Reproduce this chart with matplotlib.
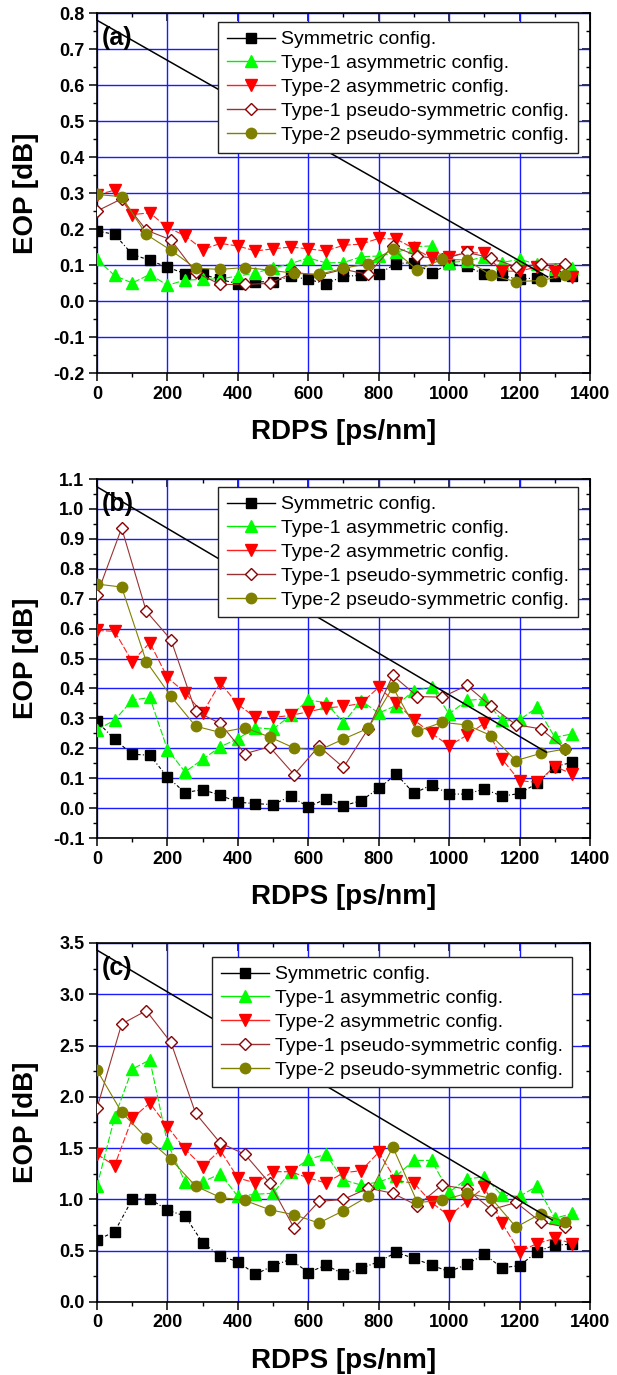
import matplotlib
matplotlib.use("Agg")
import matplotlib.pyplot as plt
from matplotlib.lines import Line2D
from matplotlib.ticker import MultipleLocator

plt.rcParams['font.family'] = ['Liberation Sans', 'DejaVu Sans']

# RDPS grids [ps/nm]
rdps = [0, 50, 100, 150, 200, 250, 300, 350, 400, 450, 500, 550, 600, 650,
        700, 750, 800, 850, 900, 950, 1000, 1050, 1100, 1150, 1200, 1250, 1300, 1350]
rdps_ps = [0, 70, 140, 210, 280, 350, 420, 490, 560, 630, 700, 770, 840, 910,
           980, 1050, 1120, 1190, 1260, 1330]

# panel (a)
sym_a = [0.195, 0.185, 0.13, 0.113, 0.094, 0.076, 0.074, 0.06, 0.048, 0.053, 0.054, 0.069, 0.06, 0.048,
         0.069, 0.071, 0.076, 0.104, 0.107, 0.079, 0.102, 0.097, 0.074, 0.071, 0.06, 0.065, 0.069, 0.07]
t1a_a = [0.116, 0.071, 0.05, 0.074, 0.044, 0.058, 0.06, 0.062, 0.069, 0.078, 0.092, 0.104, 0.12, 0.106,
         0.107, 0.123, 0.125, 0.135, 0.151, 0.153, 0.107, 0.111, 0.123, 0.107, 0.116, 0.102, 0.088, 0.093]
t2a_a = [0.295, 0.308, 0.24, 0.245, 0.204, 0.182, 0.143, 0.16, 0.153, 0.139, 0.145, 0.15, 0.145, 0.139,
         0.155, 0.158, 0.174, 0.172, 0.146, 0.12, 0.123, 0.135, 0.133, 0.083, 0.083, 0.095, 0.08, 0.067]
t1p_a = [0.25, 0.284, 0.197, 0.17, 0.08, 0.046, 0.046, 0.049, 0.08, 0.071, 0.088, 0.074, 0.153, 0.125,
         0.116, 0.135, 0.12, 0.095, 0.102, 0.104]
t2p_a = [0.296, 0.29, 0.185, 0.141, 0.091, 0.088, 0.093, 0.086, 0.077, 0.074, 0.091, 0.104, 0.144, 0.086,
         0.116, 0.114, 0.071, 0.054, 0.057, 0.071]
lim_a = ([0, 1280], [0.78, 0.067])

# panel (b)
sym_b = [0.29, 0.23, 0.18, 0.177, 0.104, 0.052, 0.062, 0.043, 0.02, 0.015, 0.012, 0.04, 0.004, 0.031,
         0.008, 0.025, 0.066, 0.114, 0.049, 0.078, 0.047, 0.047, 0.064, 0.04, 0.049, 0.083, 0.139, 0.153]
t1a_b = [0.262, 0.294, 0.361, 0.37, 0.196, 0.121, 0.163, 0.205, 0.232, 0.269, 0.264, 0.31, 0.361, 0.353,
         0.285, 0.359, 0.318, 0.343, 0.393, 0.404, 0.315, 0.36, 0.365, 0.293, 0.295, 0.337, 0.237, 0.248]
t2a_b = [0.594, 0.591, 0.49, 0.553, 0.437, 0.386, 0.318, 0.419, 0.347, 0.303, 0.303, 0.31, 0.322, 0.335,
         0.34, 0.35, 0.404, 0.351, 0.295, 0.25, 0.209, 0.243, 0.284, 0.164, 0.092, 0.086, 0.139, 0.114]
t1p_b = [0.713, 0.936, 0.658, 0.563, 0.324, 0.283, 0.182, 0.205, 0.112, 0.207, 0.136, 0.265, 0.444, 0.373,
         0.371, 0.41, 0.34, 0.279, 0.265, 0.198]
t2p_b = [0.749, 0.739, 0.49, 0.374, 0.274, 0.253, 0.269, 0.238, 0.201, 0.193, 0.231, 0.267, 0.404, 0.257,
         0.287, 0.278, 0.242, 0.159, 0.183, 0.198]
lim_b = ([0, 1276], [1.074, 0.187])

# panel (c)
sym_c = [0.604, 0.685, 1.0, 1.006, 0.896, 0.838, 0.578, 0.448, 0.393, 0.27, 0.354, 0.416, 0.286, 0.36,
         0.272, 0.328, 0.393, 0.484, 0.425, 0.36, 0.295, 0.367, 0.464, 0.334, 0.354, 0.49, 0.555, 0.562]
t1a_c = [1.13, 1.80, 2.27, 2.36, 1.55, 1.17, 1.17, 1.25, 1.03, 1.05, 1.06, 1.27, 1.39, 1.44,
         1.19, 1.14, 1.17, 1.23, 1.38, 1.38, 1.07, 1.2, 1.22, 1.04, 1.03, 1.13, 0.815, 0.864]
t2a_c = [1.44, 1.33, 1.79, 1.94, 1.71, 1.49, 1.32, 1.48, 1.21, 1.16, 1.27, 1.27, 1.21, 1.16,
         1.26, 1.28, 1.46, 1.18, 1.16, 0.97, 0.84, 0.98, 1.12, 0.77, 0.49, 0.57, 0.62, 0.57]
t1p_c = [1.89, 2.71, 2.84, 2.53, 1.84, 1.55, 1.44, 1.16, 0.72, 0.98, 1.0, 1.11, 1.06, 0.94,
         1.14, 1.10, 0.90, 0.97, 0.78, 0.73]
t2p_c = [2.26, 1.85, 1.60, 1.39, 1.13, 1.02, 0.99, 0.90, 0.85, 0.77, 0.89, 1.03, 1.51, 0.97,
         0.99, 1.06, 1.01, 0.73, 0.86, 0.78]
lim_c = ([0, 1293], [3.43, 0.80])

labels = ['Symmetric config.', 'Type-1 asymmetric config.', 'Type-2 asymmetric config.',
          'Type-1 pseudo-symmetric config.', 'Type-2 pseudo-symmetric config.']

styles = [
    dict(color='black', marker='s', ms=6.5, mfc='black', mec='black', ls=(0, (3, 2, 1, 2))),
    dict(color='#00ee00', marker='^', ms=9, mfc='#00ff00', mec='#00ff00', ls=(0, (6, 2))),
    dict(color='#ff2020', marker='v', ms=9, mfc='#ff0000', mec='#ff0000', ls=(0, (6, 2))),
    dict(color='#993333', marker='D', ms=6.3, mfc='white', mec='#8b0000', mew=1.0, ls='-'),
    dict(color='#808000', marker='o', ms=7.5, mfc='#808000', mec='#808000', ls='-'),
]

panels = [
    ('(a)', [sym_a, t1a_a, t2a_a, t1p_a, t2p_a], lim_a, (-0.2, 0.8), 0.1, 0.05,
     [0.1572, 0.7287, 0.799, 0.2618], (0.9757, 0.975)),
    ('(b)', [sym_b, t1a_b, t2a_b, t1p_b, t2p_b], lim_b, (-0.1, 1.1), 0.1, 0.05,
     [0.1572, 0.3905, 0.799, 0.2611], (0.9757, 0.978)),
    ('(c)', [sym_c, t1a_c, t2a_c, t1p_c, t2p_c], lim_c, (0.0, 3.5), 0.5, 0.25,
     [0.1572, 0.0531, 0.799, 0.2611], (0.9635, 0.961)),
]

fig = plt.figure(figsize=(6.17, 13.75), dpi=100)

for tag, series, lim, ylim, ymaj, ymin, rect, lpos in panels:
    ax = fig.add_axes(rect)
    for i, (y, st) in enumerate(zip(series, styles)):
        x = rdps if i < 3 else rdps_ps
        ax.plot(x, y, lw=0.8, zorder=3 + i, **st)
    ax.plot(lim[0], lim[1], color='black', lw=1.1, zorder=10)

    ax.set_xlim(0, 1400)
    ax.set_ylim(*ylim)
    ax.xaxis.set_major_locator(MultipleLocator(200))
    ax.xaxis.set_minor_locator(MultipleLocator(100))
    ax.yaxis.set_major_locator(MultipleLocator(ymaj))
    ax.yaxis.set_minor_locator(MultipleLocator(ymin))
    ax.yaxis.set_major_formatter(plt.FormatStrFormatter('%.1f'))
    ax.grid(True, which='major', color='#1a1aff', lw=1.0, zorder=0)
    ax.set_axisbelow(True)
    ax.tick_params(which='major', direction='out', length=6, width=1.1, labelsize=13, pad=3)
    ax.tick_params(which='minor', direction='out', length=3, width=1.0)
    for lab in ax.get_xticklabels() + ax.get_yticklabels():
        lab.set_fontweight('bold')
    for sp in ax.spines.values():
        sp.set_linewidth(1.2)

    # inward ticks on top and right like the original
    top = ax.secondary_xaxis('top')
    top.xaxis.set_major_locator(MultipleLocator(200))
    top.xaxis.set_minor_locator(MultipleLocator(100))
    top.tick_params(which='major', direction='in', length=6, width=1.1, labeltop=False)
    top.tick_params(which='minor', direction='in', length=3, width=1.0)
    right = ax.secondary_yaxis('right')
    right.yaxis.set_major_locator(MultipleLocator(ymaj))
    right.yaxis.set_minor_locator(MultipleLocator(ymin))
    right.tick_params(which='major', direction='in', length=6, width=1.1, labelright=False)
    right.tick_params(which='minor', direction='in', length=3, width=1.0)

    ax.set_xlabel('RDPS [ps/nm]', fontsize=20, fontweight='bold', labelpad=12)
    ax.set_ylabel('EOP [dB]', fontsize=20, fontweight='bold')
    ax.yaxis.set_label_coords(-0.118, 0.5)
    ax.text(0.01, 0.965, tag, transform=ax.transAxes, fontsize=18, fontweight='bold',
            ha='left', va='top', zorder=12)

    handles = [Line2D([], [], lw=1.0, color=st['color'], marker=st['marker'], ms=st['ms'],
                      mfc=st['mfc'], mec=st['mec'], mew=st.get('mew', 1.0), ls='-')
               for st in styles]
    leg = ax.legend(handles, labels, loc='upper right', bbox_to_anchor=lpos, borderaxespad=0,
                    fontsize=14, handlelength=2.5, handletextpad=0.3, labelspacing=0.32,
                    borderpad=0.45, fancybox=False, framealpha=1, edgecolor='#222222',
                    numpoints=1)
    leg.get_frame().set_linewidth(1.0)
    leg.set_zorder(11)

fig.savefig('out.png', dpi=100)
